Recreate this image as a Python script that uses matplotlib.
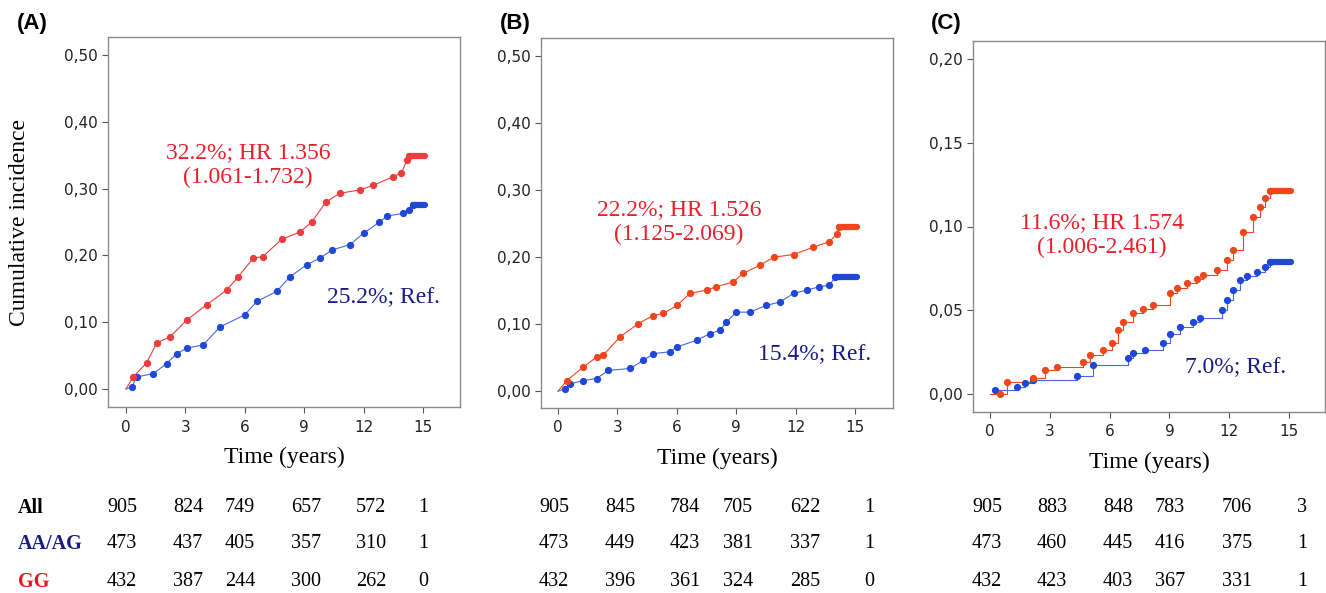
import numpy as np
import matplotlib.pyplot as plt

# ---- panel A: cumulative incidence curves (time in years, incidence) ----
A_GG_T = [0, 0.36, 1.04, 1.55, 2.22, 3.06, 4.07, 5.08, 5.67, 6.43, 6.9, 7.86, 8.79,
          9.38, 10.1, 10.8, 11.8, 12.5, 13.5, 13.9, 14.2, 14.3]
A_GG_Y = [0, 0.018, 0.039, 0.069, 0.078, 0.103, 0.126, 0.148, 0.168, 0.196, 0.198, 0.224,
          0.235, 0.250, 0.280, 0.293, 0.298, 0.305, 0.318, 0.323, 0.343, 0.349]
A_AA_T = [0, 0.29, 0.54, 1.38, 2.05, 2.56, 3.06, 3.9, 4.75, 6.0, 6.6, 7.61, 8.28, 9.13,
          9.8, 10.4, 11.3, 12.0, 12.8, 13.2, 14.0, 14.3, 14.5]
A_AA_Y = [0, 0.003, 0.018, 0.023, 0.038, 0.053, 0.061, 0.066, 0.093, 0.111, 0.131, 0.146,
          0.168, 0.186, 0.196, 0.208, 0.216, 0.233, 0.250, 0.259, 0.263, 0.268, 0.275]

# ---- panel B ----
B_GG_T = [0, 0.44, 1.28, 1.95, 2.29, 3.13, 4.06, 4.81, 5.32, 6.0, 6.67, 7.51, 8.0, 8.85,
          9.36, 10.2, 10.9, 11.9, 12.9, 13.7, 14.1, 14.2]
B_GG_Y = [0, 0.016, 0.036, 0.051, 0.054, 0.081, 0.101, 0.113, 0.116, 0.128, 0.146, 0.151,
          0.156, 0.163, 0.176, 0.188, 0.200, 0.204, 0.215, 0.223, 0.235, 0.245]
B_AA_T = [0, 0.35, 0.61, 1.28, 1.95, 2.54, 3.64, 4.31, 4.81, 5.66, 6.0, 7.0, 7.68, 8.2,
          8.5, 9.0, 9.7, 10.5, 11.2, 11.9, 12.6, 13.2, 13.7, 14.0]
B_AA_Y = [0, 0.004, 0.011, 0.016, 0.019, 0.031, 0.034, 0.046, 0.056, 0.059, 0.066, 0.076,
          0.086, 0.091, 0.103, 0.118, 0.118, 0.128, 0.133, 0.146, 0.151, 0.156, 0.158, 0.170]

# ---- panel C ----
C_GG_T = [0, 0.5, 0.84, 2.17, 2.76, 3.35, 4.68, 5.02, 5.69, 6.1, 6.44, 6.69, 7.19, 7.69,
          8.19, 9.03, 9.37, 9.87, 10.37, 10.7, 11.37, 11.88, 12.2, 12.7, 13.2, 13.55,
          13.8, 14.05]
C_GG_Y = [0, 0, 0.0073, 0.0094, 0.0143, 0.0163, 0.0193, 0.0233, 0.0263, 0.0303, 0.0382,
          0.0432, 0.0482, 0.0506, 0.0531, 0.0601, 0.0631, 0.0661, 0.0685, 0.0710, 0.0740,
          0.0800, 0.0860, 0.0969, 0.1058, 0.1118, 0.1168, 0.1212]
C_AA_T = [0, 0.25, 1.34, 1.76, 2.17, 4.35, 5.18, 6.94, 7.19, 7.78, 8.7, 9.03, 9.53, 10.2,
          10.54, 11.62, 11.88, 12.2, 12.54, 12.88, 13.38, 13.8, 14.05]
C_AA_Y = [0, 0.0024, 0.0044, 0.0064, 0.0084, 0.0107, 0.0173, 0.0213, 0.0243, 0.0263,
          0.0303, 0.0356, 0.0402, 0.0432, 0.0452, 0.0502, 0.0561, 0.0621, 0.0681, 0.0705,
          0.0730, 0.0760, 0.0786]

END_TIME = 15.1

PANEL_LABELS = ['(A)', '(B)', '(C)']
GG_TEXT = ['32.2%; HR 1.356\n(1.061-1.732)',
           '22.2%; HR 1.526\n(1.125-2.069)',
           '11.6%; HR 1.574\n(1.006-2.461)']
REF_TEXT = ['25.2%; Ref.', '15.4%; Ref.', '7.0%; Ref.']

# numbers at risk
ROW_NAMES = ['All', 'AA/AG', 'GG']
RISK_A = [[905, 824, 749, 657, 572, 1], [473, 437, 405, 357, 310, 1], [432, 387, 244, 300, 262, 0]]
RISK_B = [[905, 845, 784, 705, 622, 1], [473, 449, 423, 381, 337, 1], [432, 396, 361, 324, 285, 0]]
RISK_C = [[905, 883, 848, 783, 706, 3], [473, 460, 445, 416, 375, 1], [432, 423, 403, 367, 331, 1]]

XTICKS = [0, 3, 6, 9, 12, 15]

# layout / style
SERIF = 'Liberation Serif'
RED_TXT = '#e8202a'
NAVY_TXT = '#1a1a86'
BLUE = '#1f47d8'
BLUE_LINE = '#4668e4'
RED_LINES = ['#ee3c3c', '#f0461e', '#f0461e']

W, H = 1326, 593
fig = plt.figure(figsize=(W / 100, H / 100), dpi=100)

panels = [
    dict(rect=[108, 37, 460, 407], xlim=(-0.91, 16.87), ylim=(-0.027, 0.527),
         yticks=np.arange(0, 0.51, 0.1), curves=((A_GG_T, A_GG_Y), (A_AA_T, A_AA_Y)),
         steps=False, gg_pos=(6.16, 0.335), ref_pos=(12.98, 0.136), risk=RISK_A,
         cols=[-0.2, 3.13, 5.76, 9.09, 12.37, 15.0], letter_x=17),
    dict(rect=[541, 38, 893, 408], xlim=(-0.86, 16.92), ylim=(-0.025, 0.527),
         yticks=np.arange(0, 0.51, 0.1), curves=((B_GG_T, B_GG_Y), (B_AA_T, B_AA_Y)),
         steps=False, gg_pos=(6.11, 0.252), ref_pos=(12.98, 0.054), risk=RISK_B,
         cols=[-0.2, 3.13, 6.41, 9.09, 12.47, 15.7], letter_x=500),
    dict(rect=[973, 41, 1325, 412], xlim=(-0.85, 16.8), ylim=(-0.0107, 0.2107),
         yticks=np.arange(0, 0.201, 0.05), curves=((C_GG_T, C_GG_Y), (C_AA_T, C_AA_Y)),
         steps=True, gg_pos=(5.6, 0.0949), ref_pos=(12.33, 0.0155), risk=RISK_C,
         cols=[-0.15, 3.11, 6.42, 9.03, 12.39, 15.65], letter_x=931),
]

ROW_Y = [508, 544, 582]

for i, p in enumerate(panels):
    l, t, r, b = p['rect']
    ax = fig.add_axes([l / W, 1 - b / H, (r - l) / W, (b - t) / H])
    ax.set_xlim(*p['xlim'])
    ax.set_ylim(*p['ylim'])

    (gt, gy), (at, ay) = p['curves']
    ds = 'steps-post' if p['steps'] else 'default'
    red = RED_LINES[i]
    for tt, yy, lc, mc in ((at, ay, BLUE_LINE, BLUE), (gt, gy, red, red)):
        ax.plot(tt, yy, color=lc, lw=0.8, drawstyle=ds, zorder=3)
        ax.plot(tt[1:], yy[1:], ls='none', marker='o', ms=4.2, color=mc, zorder=4)
        # dense censoring on the final plateau
        ax.plot([tt[-1], END_TIME], [yy[-1], yy[-1]], color=mc, lw=4.5,
                solid_capstyle='round', zorder=4)

    ax.set_xticks(XTICKS)
    ax.set_yticks(p['yticks'])
    ax.set_yticklabels([f'{v:.2f}'.replace('.', ',') for v in p['yticks']])
    ax.tick_params(labelsize=11, length=4, width=0.8, color='#555555', labelcolor='#222222')
    ax.tick_params(axis='x', pad=5)
    for lab in ax.get_xticklabels() + ax.get_yticklabels():
        lab.set_fontfamily('DejaVu Sans')
    for s in ax.spines.values():
        s.set_color('#8a8a8a')
        s.set_linewidth(1.0)

    ax.set_xlabel('Time (years)', family=SERIF, fontsize=17, labelpad=9)
    if i == 0:
        ax.set_ylabel('Cumulative incidence', family=SERIF, fontsize=17, labelpad=24)

    ax.text(*p['gg_pos'], GG_TEXT[i], color=RED_TXT, family=SERIF, fontsize=17,
            ha='center', va='center', multialignment='center', linespacing=1.25)
    ax.text(*p['ref_pos'], REF_TEXT[i], color=NAVY_TXT, family=SERIF, fontsize=17,
            ha='center', va='center')

    fig.text(p['letter_x'] / W, 1 - 24 / H, PANEL_LABELS[i], family='Liberation Sans',
             fontweight='bold', fontsize=16, ha='left', va='center')

    # numbers-at-risk table under each panel
    trans = ax.get_xaxis_transform()
    for row, ypx in zip(p['risk'], ROW_Y):
        yax = (1 - ypx / H - (1 - b / H)) / ((b - t) / H)
        for x, n in zip(p['cols'], row):
            ax.text(x, yax, str(n), transform=trans, family=SERIF, fontsize=14.5,
                    ha='center', va='center', clip_on=False)

for name, ypx, c in zip(ROW_NAMES, ROW_Y, ['black', NAVY_TXT, '#e8141e']):
    fig.text(18 / W, 1 - ypx / H, name, family=SERIF, fontweight='bold', fontsize=14.5,
             color=c, ha='left', va='center')

fig.savefig('out.png', dpi=100)
